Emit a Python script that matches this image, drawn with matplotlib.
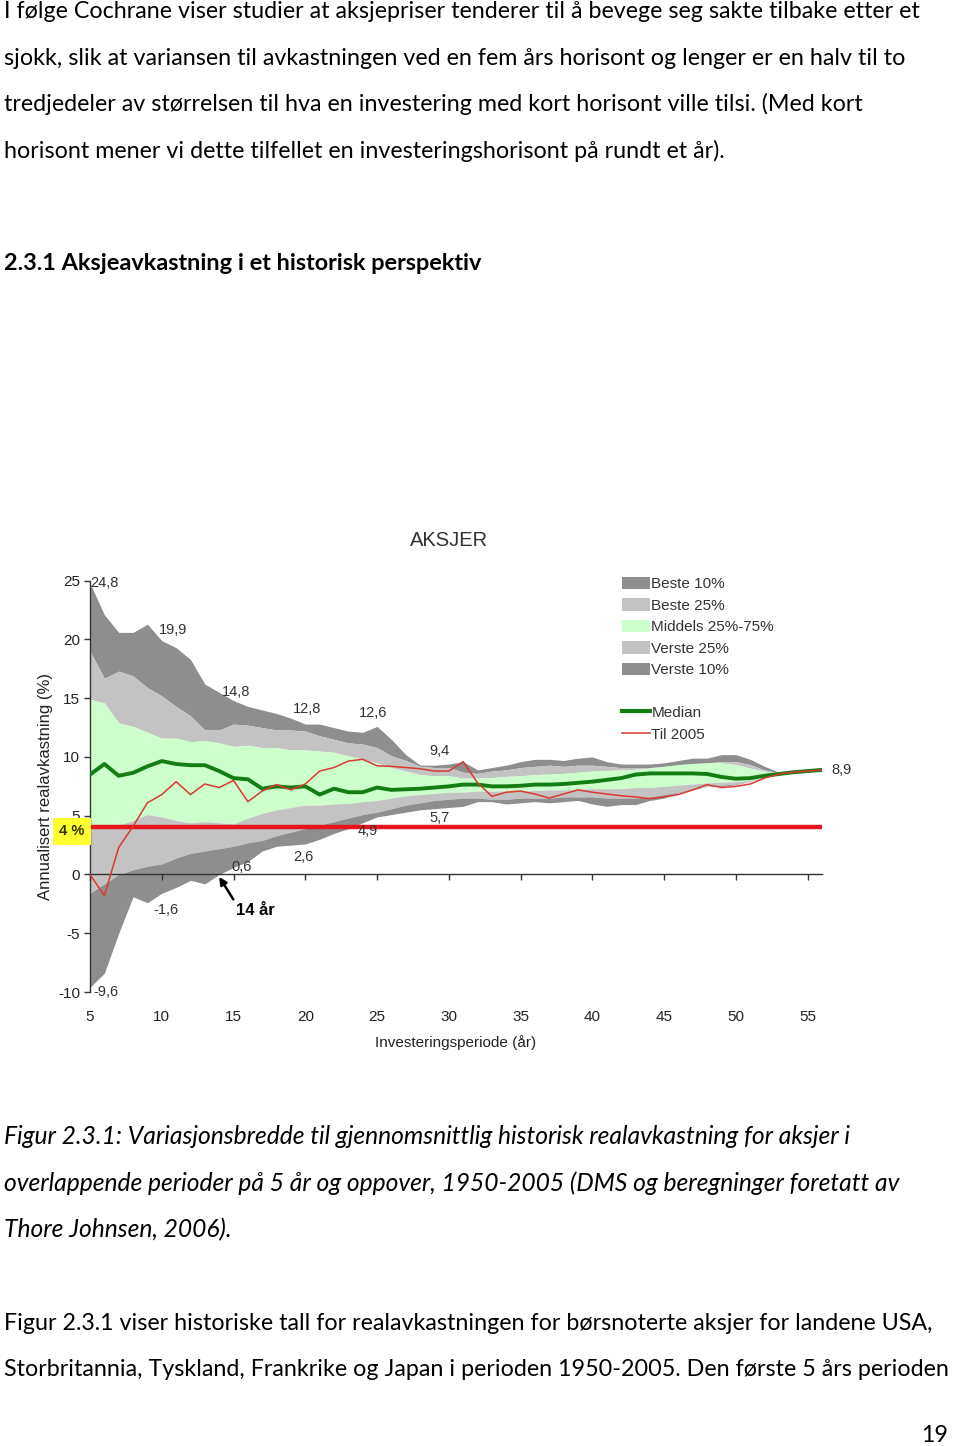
import matplotlib
matplotlib.use("Agg")
import matplotlib.pyplot as plt
from matplotlib.patches import Patch
from matplotlib.lines import Line2D

plt.rcParams["axes.unicode_minus"] = False

# ---------------- data ----------------
years = list(range(5, 57))
maks = [24.8, 22.1, 20.6, 20.6, 21.3, 19.9, 19.3, 18.3, 16.2, 15.5,
        14.8, 14.3, 14.0, 13.7, 13.3, 12.8, 12.8, 12.5, 12.2, 12.1,
        12.6, 11.5, 10.2, 9.3, 9.3, 9.4, 9.6, 8.9, 9.1, 9.3,
        9.6, 9.8, 9.8, 9.7, 9.9, 10.0, 9.6, 9.4, 9.4, 9.4,
        9.5, 9.7, 9.9, 9.9, 10.2, 10.2, 9.8, 9.2, 8.7, 8.75,
        8.85, 8.9]
p90 = [19.0, 16.7, 17.3, 16.9, 15.9, 15.2, 14.3, 13.5, 12.3, 12.3,
       12.8, 12.7, 12.5, 12.3, 12.3, 12.2, 11.8, 11.5, 11.2, 11.1,
       10.8, 10.1, 9.7, 9.2, 9.1, 9.1, 8.7, 8.6, 8.8, 8.9,
       9.1, 9.2, 9.3, 9.2, 9.3, 9.3, 9.2, 9.1, 9.1, 9.1,
       9.2, 9.3, 9.4, 9.5, 9.6, 9.6, 9.35, 8.9, 8.65, 8.72,
       8.82, 8.9]
p75 = [14.9, 14.6, 12.9, 12.6, 12.1, 11.6, 11.6, 11.3, 11.4, 11.2,
       10.9, 11.0, 10.8, 10.8, 10.6, 10.6, 10.5, 10.4, 10.1, 9.8,
       9.5, 9.1, 8.8, 8.5, 8.4, 8.4, 8.2, 8.2, 8.25, 8.35,
       8.4, 8.5, 8.55, 8.6, 8.7, 8.8, 8.85, 8.9, 8.95, 9.05,
       9.2, 9.35, 9.45, 9.5, 9.5, 9.35, 9.05, 8.8, 8.6, 8.71,
       8.81, 8.9]
median = [8.5, 9.4, 8.4, 8.65, 9.2, 9.65, 9.4, 9.3, 9.3, 8.8,
          8.2, 8.1, 7.3, 7.5, 7.4, 7.5, 6.8, 7.3, 7.0, 7.0,
          7.4, 7.2, 7.25, 7.3, 7.4, 7.5, 7.65, 7.65, 7.5, 7.5,
          7.55, 7.65, 7.65, 7.7, 7.8, 7.9, 8.05, 8.2, 8.5, 8.6,
          8.6, 8.6, 8.6, 8.55, 8.3, 8.15, 8.2, 8.4, 8.55, 8.7,
          8.8, 8.9]
p25 = [4.0, 3.9, 4.2, 4.6, 5.1, 4.9, 4.6, 4.4, 4.5, 4.4,
       4.3, 4.8, 5.2, 5.5, 5.7, 5.9, 5.9, 6.0, 6.05, 6.2,
       6.3, 6.5, 6.7, 6.8, 6.9, 7.0, 7.0, 7.1, 7.1, 7.1,
       7.1, 7.15, 7.2, 7.2, 7.25, 7.3, 7.3, 7.3, 7.4, 7.4,
       7.5, 7.6, 7.7, 7.8, 7.85, 7.9, 8.0, 8.3, 8.55, 8.69,
       8.79, 8.9]
p10 = [-1.6, -0.8, 0.0, 0.4, 0.7, 0.9, 1.4, 1.8, 2.0, 2.2,
       2.4, 2.7, 2.9, 3.3, 3.6, 3.9, 4.2, 4.5, 4.8, 5.1,
       5.3, 5.6, 5.9, 6.1, 6.3, 6.4, 6.5, 6.5, 6.4, 6.4,
       6.5, 6.5, 6.5, 6.6, 6.6, 6.6, 6.5, 6.5, 6.5, 6.6,
       6.8, 7.0, 7.3, 7.5, 7.6, 7.7, 7.9, 8.3, 8.55, 8.68,
       8.78, 8.9]
minimum = [-9.6, -8.4, -5.0, -1.9, -2.4, -1.6, -1.1, -0.5, -0.8, 0.0,
           0.6, 1.1, 2.0, 2.4, 2.5, 2.6, 3.0, 3.5, 3.9, 4.4,
           4.9, 5.1, 5.3, 5.5, 5.6, 5.7, 5.8, 6.2, 6.2, 6.0,
           6.1, 6.2, 6.1, 6.2, 6.3, 6.0, 5.8, 5.95, 5.95, 6.3,
           6.5, 6.95, 7.2, 7.5, 7.5, 7.65, 7.9, 8.3, 8.55, 8.67,
           8.77, 8.9]
til2005 = [0.0, -1.8, 2.3, 4.1, 6.1, 6.8, 7.9, 6.8, 7.7, 7.4,
           8.0, 6.2, 7.1, 7.65, 7.2, 7.7, 8.8, 9.1, 9.65, 9.8,
           9.25, 9.2, 9.1, 9.0, 8.8, 8.8, 9.6, 7.8, 6.65, 7.0,
           7.1, 6.85, 6.5, 6.85, 7.2, 7.0, 6.85, 6.7, 6.6, 6.45,
           6.6, 6.8, 7.2, 7.65, 7.4, 7.5, 7.7, 8.2, 8.55, 8.7,
           8.8, 8.9]
krav = 4.0

legend_labels = ["Beste 10%", "Beste 25%", "Middels 25%-75%", "Verste 25%",
                 "Verste 10%", "Median", "Til 2005"]

# labels: (year, value, text, dx px, dy px)
value_labels = [
    (5, 24.8, "24,8", 14, 0), (10, 19.9, "19,9", 11, 11), (15, 14.8, "14,8", 3, 9),
    (20, 12.8, "12,8", 2, 15), (25, 12.6, "12,6", -4, 13), (30, 9.4, "9,4", -9, 13),
    (30, 5.7, "5,7", -9, -10), (25, 4.9, "4,9", -9, -14), (20, 2.6, "2,6", -2, -13),
    (15, 0.6, "0,6", 8, 0), (10, -1.6, "-1,6", 4, -17), (5, -9.6, "-9,6", 16, -5),
    (56, 8.9, "8,9", 19, 0),
]

para1 = [
    "I følge Cochrane viser studier at aksjepriser tenderer til å bevege seg sakte tilbake etter et",
    "sjokk, slik at variansen til avkastningen ved en fem års horisont og lenger er en halv til to",
    "tredjedeler av størrelsen til hva en investering med kort horisont ville tilsi. (Med kort",
    "horisont mener vi dette tilfellet en investeringshorisont på rundt et år).",
]
heading = "2.3.1 Aksjeavkastning i et historisk perspektiv"
caption = [
    "Figur 2.3.1: Variasjonsbredde til gjennomsnittlig historisk realavkastning for aksjer i",
    "overlappende perioder på 5 år og oppover, 1950-2005 (DMS og beregninger foretatt av",
    "Thore Johnsen, 2006).",
]
para2 = [
    "Figur 2.3.1 viser historiske tall for realavkastningen for børsnoterte aksjer for landene USA,",
    "Storbritannia, Tyskland, Frankrike og Japan i perioden 1950-2005. Den første 5 års perioden",
]

# ---------------- figure ----------------
W, H = 960, 1446
fig = plt.figure(figsize=(W / 100, H / 100), dpi=100)
fig.patch.set_facecolor("white")

DOC = ["Lato", "DejaVu Sans"]
CH = ["Liberation Sans", "DejaVu Sans"]

def ytxt(py):
    return 1 - py / H

doc_fs = 16.75
for i, line in enumerate(para1):
    fig.text(4 / W, ytxt(12 + i * 46.2), line, family=DOC, fontsize=doc_fs,
             va="center", ha="left", color="black")
fig.text(4 / W, ytxt(263), heading, family=DOC, fontsize=16.9, weight="bold",
         va="center", ha="left")
for i, line in enumerate(caption):
    fig.text(4 / W, ytxt(1137 + i * 46.2), line, family=DOC, fontsize=17.7,
             style="italic", va="center", ha="left")
for i, line in enumerate(para2):
    fig.text(4 / W, ytxt(1323 + i * 46.2), line, family=DOC, fontsize=doc_fs,
             va="center", ha="left")
fig.text(960 / W - 0.012, ytxt(1436), "19", family=DOC, fontsize=doc_fs,
         va="center", ha="right")

# chart axes: x 5 -> px 90, 56 -> px 822 ; y 25 -> py 580.7, -10 -> py 992
left_px, right_px, top_px, bot_px = 90, 822, 580.7, 992
ax = fig.add_axes([left_px / W, 1 - bot_px / H, (right_px - left_px) / W,
                   (bot_px - top_px) / H])
ax.set_xlim(5, 56)
ax.set_ylim(-10, 25)

dark = "#8e8e8e"
light = "#c3c3c3"
green = "#ccffcc"
ax.fill_between(years, p90, maks, color=dark, lw=0)
ax.fill_between(years, p75, p90, color=light, lw=0)
ax.fill_between(years, p25, p75, color=green, lw=0)
ax.fill_between(years, p10, p25, color=light, lw=0)
ax.fill_between(years, minimum, p10, color=dark, lw=0)

ax.hlines(krav, 5, 56, color="#e8141c", lw=3.2, zorder=3)
ax.plot(years, median, color="#137d13", lw=2.8, zorder=4, solid_joinstyle="round")
ax.plot(years, til2005, color="#d83a30", lw=1.1, zorder=5)

for s in ["top", "right"]:
    ax.spines[s].set_visible(False)
ax.spines["bottom"].set_position(("data", 0))
ax.spines["bottom"].set_color("#333333")
ax.spines["left"].set_color("#333333")
ax.spines["bottom"].set_linewidth(1.0)
ax.spines["left"].set_linewidth(1.0)

ax.set_xticks(range(5, 60, 5))
ax.tick_params(axis="x", direction="out", length=4, width=1, color="#333333",
               labelbottom=False)
ax.set_yticks(range(-10, 30, 5))
ax.tick_params(axis="y", direction="out", length=4, width=1, color="#333333",
               labelsize=11, pad=3, labelcolor="#222222")
for t in ax.get_yticklabels():
    t.set_family(CH)

sec = ax.secondary_xaxis("bottom")
sec.set_xticks(range(5, 60, 5))
sec.spines["bottom"].set_visible(False)
sec.tick_params(length=0, pad=13, labelsize=11, labelcolor="#222222")
for t in sec.get_xticklabels():
    t.set_family(CH)

ax.set_ylabel("Annualisert realavkastning (%)", family=CH, fontsize=12,
              color="#222222")
ax.yaxis.set_label_coords(-0.051, 0.5)
fig.text(456 / W, ytxt(1043), "Investeringsperiode (år)", family=CH,
         fontsize=11, ha="center", va="center", color="#222222")
fig.text(449 / W, ytxt(540), "AKSJER", family=CH, fontsize=14.5,
         ha="center", va="center", color="#333333")

for (xv, yv, txt, dx, dy) in value_labels:
    ax.annotate(txt, xy=(xv, yv), xytext=(dx, dy), textcoords="offset pixels",
                ha="center", va="center", family=CH, fontsize=10.5,
                color="#333333", zorder=6)

ax.annotate("4 %", xy=(5, krav), xytext=(-18, -4), textcoords="offset pixels",
            ha="center", va="center", family=CH, fontsize=10.5, weight="bold",
            color="#333300", annotation_clip=False,
            bbox=dict(boxstyle="square,pad=0.45", fc="#ffff30", ec="none"))

ax.annotate("14 år", xy=(14, -0.2), xytext=(36, -34), textcoords="offset pixels",
            ha="center", va="center", family=CH, fontsize=12, weight="bold",
            color="black",
            arrowprops=dict(arrowstyle="-|>", color="black", lw=1.8,
                            relpos=(0.0, 1.0), shrinkA=1, shrinkB=0,
                            mutation_scale=11))

handles = [Patch(fc=dark, ec="none"), Patch(fc=light, ec="none"),
           Patch(fc=green, ec="none"), Patch(fc=light, ec="none"),
           Patch(fc=dark, ec="none"), Line2D([], [], color="none"),
           Line2D([], [], color="#137d13", lw=3),
           Line2D([], [], color="#d83a30", lw=1.1)]
labels = legend_labels[:5] + [" "] + legend_labels[5:]
leg = fig.legend(handles, labels, loc="upper left",
                 bbox_to_anchor=(611 / W, ytxt(566)), frameon=False,
                 prop={"family": CH, "size": 11}, handlelength=1.85,
                 handleheight=0.9, handletextpad=0.1, labelspacing=0.45,
                 borderpad=0.2)
for t in leg.get_texts():
    t.set_color("#333333")

fig.savefig("out.png", dpi=100, facecolor="white")
